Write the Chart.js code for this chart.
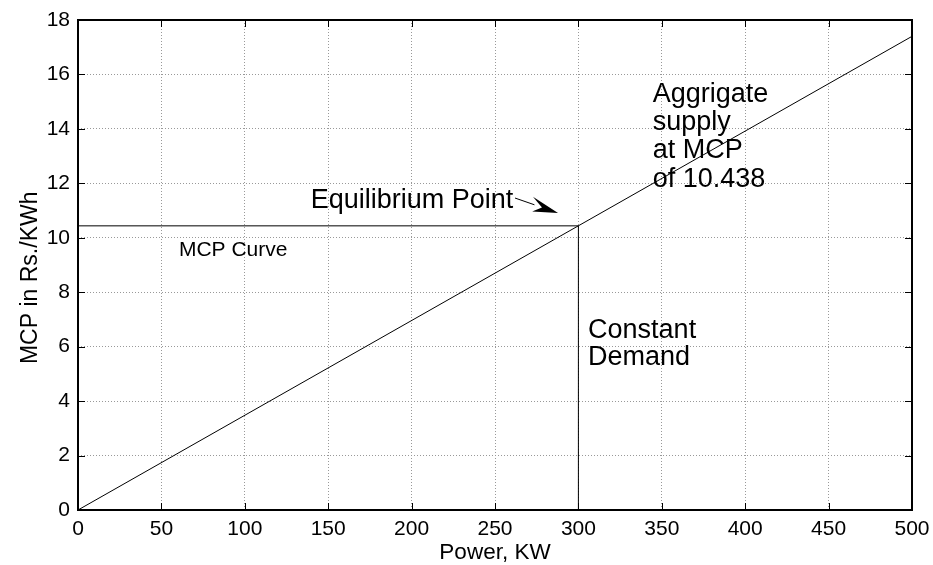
<!DOCTYPE html>
<html>
<head>
<meta charset="utf-8">
<script src="https://cdn.jsdelivr.net/npm/chart.js@4.4.1/dist/chart.umd.min.js"></script>
<style>
  body { margin: 0; background: #fff; }
</style>
</head>
<body>
<canvas id="mcpChart" width="933" height="565"></canvas>
<script>
// data
const supplyPower = [0, 500];
const supplyPrice = [0, 17.4];
const mcpPower = [0, 300];
const mcpPrice = [10.438, 10.438];
const demandPower = [300, 300];
const demandPrice = [0, 10.438];

const xTicks = [0, 50, 100, 150, 200, 250, 300, 350, 400, 450, 500];
const yTicks = [0, 2, 4, 6, 8, 10, 12, 14, 16, 18];

function toPoints(xs, ys) {
    return xs.map(function (x, i) { return { x: x, y: ys[i] }; });
}

// text labels, anchored in data units (left edge, baseline)
const notes = [
    { lines: ['Equilibrium Point'], x: 139.5, y: 11.08, size: 27 },
    { lines: ['MCP Curve'], x: 60.5, y: 9.33, size: 21 },
    { lines: ['Aggrigate', 'supply', 'at MCP', 'of 10.438'], x: 344.5, y: 15.0, size: 27, step: 28.3 },
    { lines: ['Constant', 'Demand'], x: 305.8, y: 6.33, size: 27, step: 27.3 }
];
const arrow = { fromX: 262, fromY: 11.46, toX: 287.8, toY: 10.91 };

const FONT = '"Liberation Sans", Arial, sans-serif';

// matlab-like frame, inward ticks, notes and arrow
const matlabPlugin = {
    id: 'matlabPlugin',
    afterDatasetsDraw: function (chart) {
        const ctx = chart.ctx;
        const a = chart.chartArea;
        const xs = chart.scales.x;
        const ys = chart.scales.y;
        const tl = 7;
        ctx.save();
        ctx.strokeStyle = '#000';
        ctx.lineWidth = 1;
        ctx.beginPath();
        xTicks.forEach(function (v) {
            const px = Math.round(xs.getPixelForValue(v)) + 0.5;
            ctx.moveTo(px, a.bottom); ctx.lineTo(px, a.bottom - tl);
            ctx.moveTo(px, a.top); ctx.lineTo(px, a.top + tl);
        });
        yTicks.forEach(function (v) {
            const py = Math.round(ys.getPixelForValue(v)) + 0.5;
            ctx.moveTo(a.left, py); ctx.lineTo(a.left + tl, py);
            ctx.moveTo(a.right, py); ctx.lineTo(a.right - tl, py);
        });
        ctx.stroke();
        ctx.lineWidth = 2;
        ctx.strokeRect(a.left, a.top, a.right - a.left, a.bottom - a.top);

        // notes
        ctx.fillStyle = '#000';
        ctx.textAlign = 'left';
        ctx.textBaseline = 'alphabetic';
        notes.forEach(function (n) {
            ctx.font = n.size + 'px ' + FONT;
            const x0 = xs.getPixelForValue(n.x);
            const y0 = ys.getPixelForValue(n.y);
            n.lines.forEach(function (t, i) {
                ctx.fillText(t, x0, y0 + i * (n.step || 0));
            });
        });

        // arrow
        const x1 = xs.getPixelForValue(arrow.fromX), y1 = ys.getPixelForValue(arrow.fromY);
        const x2 = xs.getPixelForValue(arrow.toX), y2 = ys.getPixelForValue(arrow.toY);
        const ang = Math.atan2(y2 - y1, x2 - x1);
        const cos = Math.cos(ang), sin = Math.sin(ang);
        const hl = 25, hw = 7;
        ctx.lineWidth = 1;
        ctx.beginPath();
        ctx.moveTo(x1, y1);
        ctx.lineTo(x2 - hl * cos, y2 - hl * sin);
        ctx.stroke();
        ctx.beginPath();
        ctx.moveTo(x2, y2);
        ctx.lineTo(x2 - (hl + 4) * cos + hw * sin, y2 - (hl + 4) * sin - hw * cos);
        ctx.lineTo(x2 - (hl - 8) * cos, y2 - (hl - 8) * sin);
        ctx.lineTo(x2 - hl * cos - hw * sin, y2 - hl * sin + hw * cos);
        ctx.closePath();
        ctx.fill();
        ctx.restore();
    }
};

const lineStyle = {
    borderColor: '#000',
    borderWidth: 1,
    pointRadius: 0,
    fill: false,
    tension: 0
};

new Chart(document.getElementById('mcpChart').getContext('2d'), {
    type: 'line',
    data: {
        datasets: [
            Object.assign({ label: 'Aggregate supply', data: toPoints(supplyPower, supplyPrice) }, lineStyle),
            Object.assign({ label: 'MCP Curve', data: toPoints(mcpPower, mcpPrice) }, lineStyle),
            Object.assign({ label: 'Constant Demand', data: toPoints(demandPower, demandPrice) }, lineStyle)
        ]
    },
    options: {
        responsive: false,
        animation: false,
        layout: { padding: { top: 20, right: 21, left: 0, bottom: 0 } },
        plugins: {
            legend: { display: false },
            tooltip: { enabled: false }
        },
        scales: {
            x: {
                type: 'linear',
                min: 0,
                max: 500,
                afterBuildTicks: function (scale) {
                    scale.ticks = xTicks.map(function (v) { return { value: v }; });
                },
                afterFit: function (scale) {
                    scale.height = 55;
                    scale.paddingLeft = 0;
                    scale.paddingRight = 0;
                },
                ticks: { color: '#000', padding: 7, font: { family: FONT, size: 21 } },
                grid: { color: '#999', drawTicks: false },
                border: { display: false, dash: [1, 2] },
                title: {
                    display: true,
                    text: 'Power, KW',
                    color: '#000',
                    font: { family: FONT, size: 22.5, lineHeight: 1 },
                    padding: { top: 0, bottom: 1 }
                }
            },
            y: {
                type: 'linear',
                min: 0,
                max: 18,
                afterBuildTicks: function (scale) {
                    scale.ticks = yTicks.map(function (v) { return { value: v }; });
                },
                afterFit: function (scale) {
                    scale.width = 78;
                    scale.paddingTop = 0;
                    scale.paddingBottom = 0;
                },
                ticks: { color: '#000', padding: 8, font: { family: FONT, size: 21 } },
                grid: { color: '#999', drawTicks: false },
                border: { display: false, dash: [1, 2] },
                title: {
                    display: true,
                    text: 'MCP in Rs./KWh    ',
                    color: '#000',
                    font: { family: FONT, size: 23, lineHeight: 1 },
                    padding: { top: 19, bottom: 0 }
                }
            }
        }
    },
    plugins: [matlabPlugin]
});
</script>
</body>
</html>
